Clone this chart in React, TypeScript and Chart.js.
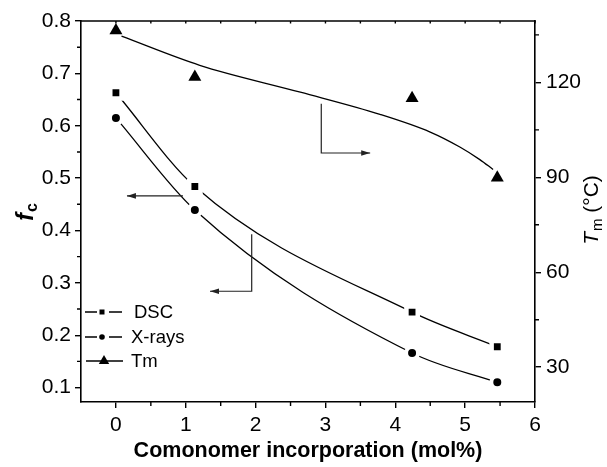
import React, { useEffect, useRef } from 'react';
import { Chart, registerables } from 'chart.js';

Chart.register(...registerables);

// ---- data ----
const comonomer = [0, 1.13, 4.24, 5.46];
const fcDSC = [0.663, 0.484, 0.244, 0.178];
const fcXray = [0.615, 0.439, 0.166, 0.11];
const tmValues = [136.4, 121.7, 115.0, 89.9];
// fitted Tm curve
const tmFitX = [0.08, 1.2, 2.64, 3.78, 4.5, 4.93, 5.21, 5.4];
const tmFitY = [134.6, 125.4, 116.9, 109.9, 104.3, 99.5, 95.6, 92.5];

const xTicks = [0, 1, 2, 3, 4, 5, 6];
const xMinorTicks = [0.5, 1.5, 2.5, 3.5, 4.5, 5.5];
const fcTicks = [0.1, 0.2, 0.3, 0.4, 0.5, 0.6, 0.7, 0.8];
const fcMinorTicks = [0.15, 0.25, 0.35, 0.45, 0.55, 0.65, 0.75];
const tmTicks = [30, 60, 90, 120];
const tmMinorTicks = [45, 75, 105, 135];

const seriesLabels = ['DSC', 'X-rays', 'Tm'];
const xTitle = 'Comonomer incorporation (mol%)';

// annotation arrows in (comonomer, fc) units
const arrowTm = [[2.94, 0.642], [2.94, 0.548], [3.64, 0.548]];
const arrowXray = [[0.96, 0.466], [0.158, 0.466]];
const arrowDSC = [[1.944, 0.393], [1.944, 0.284], [1.347, 0.284]];

const FONT = "'Liberation Sans', Arial, Helvetica, sans-serif";

function drawArrow(ctx: CanvasRenderingContext2D, pts: number[][]) {
  ctx.beginPath();
  pts.forEach(([px, py], i) => (i ? ctx.lineTo(px, py) : ctx.moveTo(px, py)));
  ctx.stroke();
  const [x1, y1] = pts[pts.length - 2];
  const [x2, y2] = pts[pts.length - 1];
  const ang = Math.atan2(y2 - y1, x2 - x1);
  const L = 9, W = 2.8;
  ctx.beginPath();
  ctx.moveTo(x2, y2);
  ctx.lineTo(x2 - L * Math.cos(ang) + W * Math.sin(ang), y2 - L * Math.sin(ang) - W * Math.cos(ang));
  ctx.lineTo(x2 - L * Math.cos(ang) - W * Math.sin(ang), y2 - L * Math.sin(ang) + W * Math.cos(ang));
  ctx.closePath();
  ctx.fill();
}

const extrasPlugin = {
  id: 'extras',
  afterDraw(chart: any) {
    const ctx: CanvasRenderingContext2D = chart.ctx;
    const { left, right, top, bottom } = chart.chartArea;
    const xs = chart.scales.x, ys = chart.scales.y, y1 = chart.scales.y1;
    ctx.save();
    ctx.strokeStyle = '#000';
    ctx.fillStyle = '#000';
    ctx.lineWidth = 1.6;
    // top frame
    ctx.beginPath();
    ctx.moveTo(left - 0.8, top);
    ctx.lineTo(right + 0.8, top);
    ctx.stroke();
    // minor ticks
    ctx.lineWidth = 1.4;
    ctx.beginPath();
    xMinorTicks.forEach((v) => {
      const px = xs.getPixelForValue(v);
      ctx.moveTo(px, bottom);
      ctx.lineTo(px, bottom + 4);
    });
    fcMinorTicks.forEach((v) => {
      const py = ys.getPixelForValue(v);
      ctx.moveTo(left, py);
      ctx.lineTo(left - 4, py);
    });
    tmMinorTicks.forEach((v) => {
      const py = y1.getPixelForValue(v);
      ctx.moveTo(right, py);
      ctx.lineTo(right + 4, py);
    });
    // small inward ticks on top axis
    [...xTicks, ...xMinorTicks].forEach((v) => {
      const px = xs.getPixelForValue(v);
      ctx.moveTo(px, top);
      ctx.lineTo(px, top + 2.5);
    });
    ctx.stroke();

    // arrows
    ctx.lineWidth = 1.2;
    ctx.strokeStyle = '#222';
    ctx.fillStyle = '#222';
    [arrowTm, arrowXray, arrowDSC].forEach((a) =>
      drawArrow(ctx, a.map(([vx, vy]) => [xs.getPixelForValue(vx), ys.getPixelForValue(vy)]))
    );

    // legend
    ctx.strokeStyle = '#000';
    ctx.fillStyle = '#000';
    ctx.lineWidth = 1.3;
    const lx0 = left + 4, lxm = left + 21, lx1 = left + 41;
    const rows = [bottom - 90, bottom - 65, bottom - 41];
    ctx.font = `18.5px ${FONT}`;
    ctx.textBaseline = 'middle';
    ctx.textAlign = 'left';
    rows.forEach((ry, i) => {
      ctx.beginPath();
      if (i < 2) {
        ctx.moveTo(lx0, ry); ctx.lineTo(lxm - 5, ry);
        ctx.moveTo(lxm + 7, ry); ctx.lineTo(lx1, ry);
      } else {
        ctx.moveTo(lx0 + 1, ry); ctx.lineTo(lx1 + 1, ry);
      }
      ctx.stroke();
      ctx.beginPath();
      if (i === 0) {
        ctx.rect(lxm - 2.5, ry - 2.5, 5, 5);
      } else if (i === 1) {
        ctx.arc(lxm, ry, 2.8, 0, Math.PI * 2);
      } else {
        const r = 6;
        const cx = lxm + 2;
        ctx.moveTo(cx, ry - r);
        ctx.lineTo(cx + r * Math.sin((2 * Math.PI) / 3), ry - r * Math.cos((2 * Math.PI) / 3));
        ctx.lineTo(cx + r * Math.sin((4 * Math.PI) / 3), ry - r * Math.cos((4 * Math.PI) / 3));
        ctx.closePath();
      }
      ctx.fill();
      const tx = i === 0 ? left + 53 : left + 50;
      ctx.fillText(seriesLabels[i], tx, ry + 1);
    });

    // left axis title: f_c
    ctx.save();
    ctx.translate(27, 212);
    ctx.rotate(-Math.PI / 2);
    ctx.textBaseline = 'middle';
    ctx.font = `italic bold 23px ${FONT}`;
    const wf = ctx.measureText('f').width;
    ctx.font = `bold 16px ${FONT}`;
    const wc = ctx.measureText('c').width;
    const tot = wf + wc + 1;
    ctx.font = `italic bold 23px ${FONT}`;
    ctx.fillText('f', -tot / 2, 0);
    ctx.font = `bold 16px ${FONT}`;
    ctx.fillText('c', -tot / 2 + wf + 1, 6);
    ctx.restore();

    // right axis title: T_m (°C)
    ctx.save();
    ctx.translate(592, 210);
    ctx.rotate(-Math.PI / 2);
    ctx.textBaseline = 'middle';
    ctx.font = `italic 21px ${FONT}`;
    const wT = ctx.measureText('T').width;
    ctx.font = `15px ${FONT}`;
    const wm = ctx.measureText('m').width;
    ctx.font = `21px ${FONT}`;
    const rest = ' (°C)';
    const wr = ctx.measureText(rest).width;
    const tot2 = wT + wm + wr + 1;
    let cx = -tot2 / 2;
    ctx.font = `italic 21px ${FONT}`;
    ctx.fillText('T', cx, 0);
    cx += wT + 1;
    ctx.font = `15px ${FONT}`;
    ctx.fillText('m', cx, 6);
    cx += wm;
    ctx.font = `21px ${FONT}`;
    ctx.fillText(rest, cx, 0);
    ctx.restore();

    ctx.restore();
  },
};

export default function App() {
  const ref = useRef<HTMLCanvasElement>(null);
  useEffect(() => {
    if (!ref.current) return;
    const tickFont = { family: FONT, size: 21 };
    const chart = new Chart(ref.current, {
      type: 'line',
      data: {
        datasets: [
          {
            label: seriesLabels[0],
            data: comonomer.map((x, i) => ({ x, y: fcDSC[i] })),
            yAxisID: 'y',
            borderColor: '#000',
            borderWidth: 1.3,
            pointStyle: 'rect',
            pointRadius: 8,
            pointBackgroundColor: '#000',
            pointBorderColor: '#fff',
            pointBorderWidth: 4.5,
            cubicInterpolationMode: 'monotone',
            fill: false,
          },
          {
            label: seriesLabels[1],
            data: comonomer.map((x, i) => ({ x, y: fcXray[i] })),
            yAxisID: 'y',
            borderColor: '#000',
            borderWidth: 1.3,
            pointStyle: 'circle',
            pointRadius: 6,
            pointBackgroundColor: '#000',
            pointBorderColor: '#fff',
            pointBorderWidth: 4,
            cubicInterpolationMode: 'monotone',
            fill: false,
          },
          {
            label: seriesLabels[2],
            data: comonomer.map((x, i) => ({ x, y: tmValues[i] })),
            yAxisID: 'y1',
            showLine: false,
            pointStyle: 'triangle',
            pointRadius: 7.5,
            pointBackgroundColor: '#000',
            pointBorderColor: '#000',
            pointBorderWidth: 0,
          },
          {
            label: 'Tm fit',
            data: tmFitX.map((x, i) => ({ x, y: tmFitY[i] })),
            yAxisID: 'y1',
            borderColor: '#000',
            borderWidth: 1.3,
            pointRadius: 0,
            cubicInterpolationMode: 'monotone',
            fill: false,
          },
        ],
      },
      options: {
        responsive: false,
        animation: false,
        events: [],
        layout: { padding: { top: 21, left: 0, right: 0, bottom: 0 } },
        plugins: { legend: { display: false }, tooltip: { enabled: false } },
        scales: {
          x: {
            type: 'linear',
            min: -0.5,
            max: 6,
            afterBuildTicks: (s: any) => {
              s.ticks = xTicks.map((value) => ({ value }));
            },
            afterFit: (s: any) => {
              s.height = 65;
            },
            ticks: { color: '#000', font: tickFont, padding: 5, callback: (v: any) => String(v) },
            grid: { drawOnChartArea: false, drawTicks: true, tickLength: 6, color: '#000', lineWidth: 1.4 },
            border: { color: '#000', width: 1.6 },
            title: {
              display: true,
              text: xTitle,
              color: '#000',
              font: { family: FONT, size: 21.5, weight: 'bold' },
              padding: { top: 0, bottom: 3 },
            },
          },
          y: {
            type: 'linear',
            position: 'left',
            min: 0.0725,
            max: 0.8,
            afterBuildTicks: (s: any) => {
              s.ticks = fcTicks.map((value) => ({ value }));
            },
            afterFit: (s: any) => {
              s.width = 81;
            },
            ticks: { color: '#000', font: tickFont, padding: 4, callback: (v: any) => Number(v).toFixed(1) },
            grid: { drawOnChartArea: false, drawTicks: true, tickLength: 6, color: '#000', lineWidth: 1.4 },
            border: { color: '#000', width: 1.6 },
          },
          y1: {
            type: 'linear',
            position: 'right',
            min: 19,
            max: 139.4,
            afterBuildTicks: (s: any) => {
              s.ticks = tmTicks.map((value) => ({ value }));
            },
            afterFit: (s: any) => {
              s.width = 72;
            },
            ticks: { color: '#000', font: tickFont, padding: 5, callback: (v: any) => String(v) },
            grid: { drawOnChartArea: false, drawTicks: true, tickLength: 6, color: '#000', lineWidth: 1.4 },
            border: { color: '#000', width: 1.6 },
          },
        },
      } as any,
      plugins: [extrasPlugin],
    });
    return () => chart.destroy();
  }, []);
  return (
    <div style={{ position: 'fixed', left: 0, top: 0, width: 607, height: 467, background: '#fff' }}>
      <canvas ref={ref} width={607} height={467} style={{ display: 'block' }} />
    </div>
  );
}
